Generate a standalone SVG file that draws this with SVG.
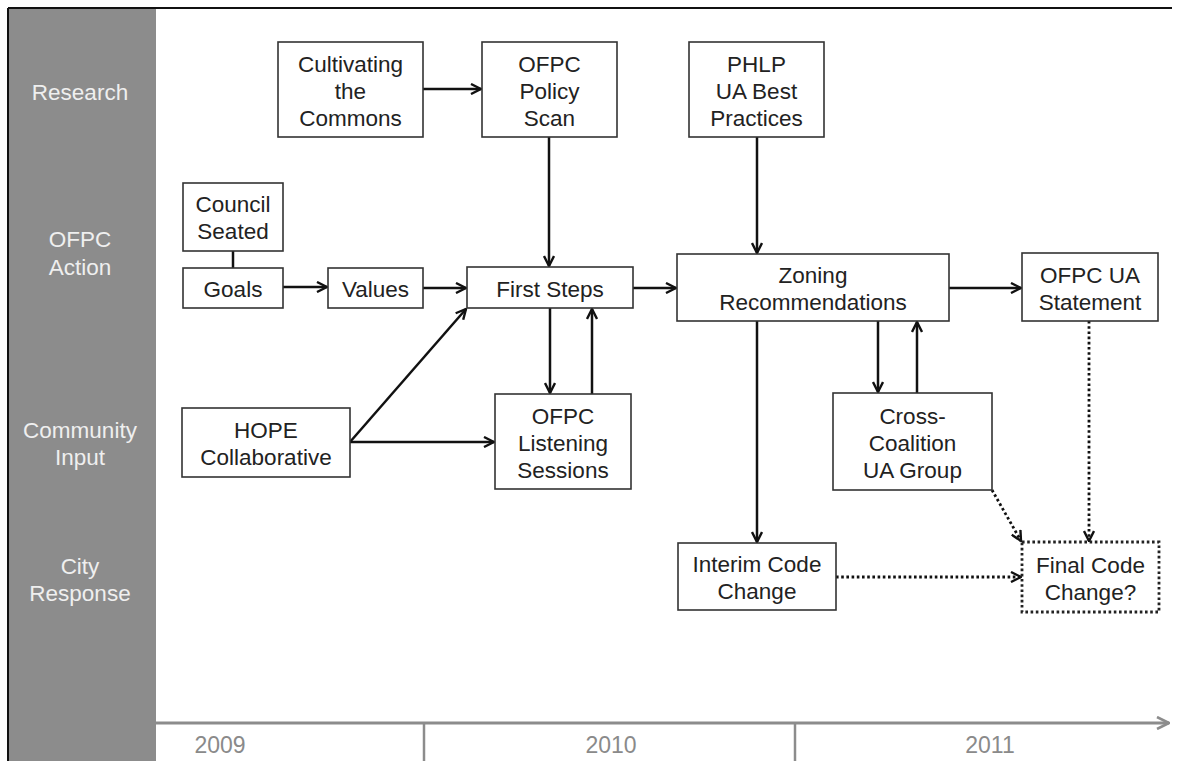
<svg xmlns="http://www.w3.org/2000/svg" width="1184" height="761" viewBox="0 0 1184 761">
<style>
.box{fill:#fff;stroke:#333;stroke-width:1.6}
.dbox{fill:#fff;stroke:#222;stroke-width:2.8;stroke-dasharray:2.6,2.6}
.t{font-family:"Liberation Sans",Arial,sans-serif;font-size:22.5px;fill:#222;text-anchor:middle}
.lane{font-family:"Liberation Sans",Arial,sans-serif;font-size:22.5px;fill:#efefef;text-anchor:middle}
.yr{font-family:"Liberation Sans",Arial,sans-serif;font-size:23px;fill:#8a8a8a;text-anchor:middle}
.c{fill:none;stroke:#111;stroke-width:2.5}
.d{fill:none;stroke:#111;stroke-width:2.8;stroke-dasharray:2.6,2.6}
</style>
<defs>
<marker id="ah" viewBox="0 0 12 12" refX="11" refY="6" markerWidth="12" markerHeight="12" markerUnits="userSpaceOnUse" orient="auto">
<path d="M1,1 L11,6 L1,11" fill="none" stroke="#111" stroke-width="2.4"/>
</marker>
<marker id="gh" viewBox="0 0 14 14" refX="13" refY="7" markerWidth="14" markerHeight="14" markerUnits="userSpaceOnUse" orient="auto">
<path d="M1,1 L13,7 L1,13" fill="none" stroke="#8c8c8c" stroke-width="2.6"/>
</marker>
</defs>
<rect width="1184" height="761" fill="#fff"/>
<g id="frame">
<rect x="8" y="8" width="148" height="753" fill="#8c8c8c"/>
<line x1="8" y1="8" x2="8" y2="761" stroke="#111" stroke-width="2"/>
<line x1="8" y1="8" x2="1172" y2="8" stroke="#111" stroke-width="2"/>
</g>
<g id="lanes">
<text class="lane" x="80" y="100">Research</text>
<text class="lane" x="80" y="247">OFPC</text>
<text class="lane" x="80" y="275">Action</text>
<text class="lane" x="80" y="438">Community</text>
<text class="lane" x="80" y="465">Input</text>
<text class="lane" x="80" y="574">City</text>
<text class="lane" x="80" y="601">Response</text>
</g>
<g id="timeline">
<line x1="156" y1="723" x2="1169" y2="723" stroke="#8c8c8c" stroke-width="3" marker-end="url(#gh)"/>
<line x1="424" y1="723" x2="424" y2="761" stroke="#8c8c8c" stroke-width="2.5"/>
<line x1="795" y1="723" x2="795" y2="761" stroke="#8c8c8c" stroke-width="2.5"/>
<text class="yr" x="220" y="753">2009</text>
<text class="yr" x="611" y="753">2010</text>
<text class="yr" x="990" y="753">2011</text>
</g>
<g id="connectors">
<line class="c" x1="233" y1="251" x2="233" y2="268"/>
<line class="c" x1="423" y1="89" x2="481" y2="89" marker-end="url(#ah)"/>
<line class="c" x1="283" y1="287" x2="327" y2="287" marker-end="url(#ah)"/>
<line class="c" x1="423" y1="288" x2="466" y2="288" marker-end="url(#ah)"/>
<line class="c" x1="549" y1="137" x2="549" y2="266" marker-end="url(#ah)"/>
<line class="c" x1="633" y1="288" x2="676" y2="288" marker-end="url(#ah)"/>
<line class="c" x1="550" y1="308" x2="550" y2="393" marker-end="url(#ah)"/>
<line class="c" x1="592" y1="394" x2="592" y2="309" marker-end="url(#ah)"/>
<line class="c" x1="350" y1="442" x2="494" y2="442" marker-end="url(#ah)"/>
<line class="c" x1="350" y1="442" x2="466" y2="309" marker-end="url(#ah)"/>
<line class="c" x1="757" y1="137" x2="757" y2="253" marker-end="url(#ah)"/>
<line class="c" x1="949" y1="288" x2="1021" y2="288" marker-end="url(#ah)"/>
<line class="c" x1="878" y1="321" x2="878" y2="392" marker-end="url(#ah)"/>
<line class="c" x1="917" y1="393" x2="917" y2="322" marker-end="url(#ah)"/>
<line class="c" x1="757" y1="321" x2="757" y2="542" marker-end="url(#ah)"/>
<line class="d" x1="836" y1="577" x2="1021" y2="577" marker-end="url(#ah)"/>
<line class="d" x1="1089" y1="321" x2="1089" y2="541" marker-end="url(#ah)"/>
<line class="d" x1="992" y1="490" x2="1021" y2="541" marker-end="url(#ah)"/>
</g>
<g id="cultivating">
<rect class="box" x="278" y="42" width="145" height="95"/>
<text class="t" x="350.5" y="71.5">Cultivating</text>
<text class="t" x="350.5" y="98.5">the</text>
<text class="t" x="350.5" y="125.5">Commons</text>
</g>
<g id="policyscan">
<rect class="box" x="482" y="42" width="135" height="95"/>
<text class="t" x="549.5" y="71.5">OFPC</text>
<text class="t" x="549.5" y="98.5">Policy</text>
<text class="t" x="549.5" y="125.5">Scan</text>
</g>
<g id="phlp">
<rect class="box" x="689" y="42" width="135" height="95"/>
<text class="t" x="756.5" y="71.5">PHLP</text>
<text class="t" x="756.5" y="98.5">UA Best</text>
<text class="t" x="756.5" y="125.5">Practices</text>
</g>
<g id="council">
<rect class="box" x="183" y="183" width="100" height="68"/>
<text class="t" x="233" y="212">Council</text>
<text class="t" x="233" y="239">Seated</text>
</g>
<g id="goals">
<rect class="box" x="183" y="268" width="100" height="40"/>
<text class="t" x="233" y="297">Goals</text>
</g>
<g id="values">
<rect class="box" x="328" y="268" width="95" height="40"/>
<text class="t" x="375.5" y="297">Values</text>
</g>
<g id="firststeps">
<rect class="box" x="467" y="267" width="166" height="41"/>
<text class="t" x="550" y="296.5">First Steps</text>
</g>
<g id="zoning">
<rect class="box" x="677" y="254" width="272" height="67"/>
<text class="t" x="813" y="283">Zoning</text>
<text class="t" x="813" y="310">Recommendations</text>
</g>
<g id="statement">
<rect class="box" x="1022" y="253" width="136" height="68"/>
<text class="t" x="1090" y="282.5">OFPC UA</text>
<text class="t" x="1090" y="309.5">Statement</text>
</g>
<g id="hope">
<rect class="box" x="182" y="408" width="168" height="69"/>
<text class="t" x="266" y="438">HOPE</text>
<text class="t" x="266" y="465">Collaborative</text>
</g>
<g id="listening">
<rect class="box" x="495" y="394" width="136" height="95"/>
<text class="t" x="563" y="423.5">OFPC</text>
<text class="t" x="563" y="450.5">Listening</text>
<text class="t" x="563" y="477.5">Sessions</text>
</g>
<g id="crosscoalition">
<rect class="box" x="833" y="393" width="159" height="97"/>
<text class="t" x="912.5" y="423.5">Cross-</text>
<text class="t" x="912.5" y="450.5">Coalition</text>
<text class="t" x="912.5" y="477.5">UA Group</text>
</g>
<g id="interim">
<rect class="box" x="678" y="543" width="158" height="67"/>
<text class="t" x="757" y="572">Interim Code</text>
<text class="t" x="757" y="599">Change</text>
</g>
<g id="finalcode">
<rect class="dbox" x="1022" y="542" width="137" height="70"/>
<text class="t" x="1090.5" y="572.5">Final Code</text>
<text class="t" x="1090.5" y="599.5">Change?</text>
</g>
</svg>
